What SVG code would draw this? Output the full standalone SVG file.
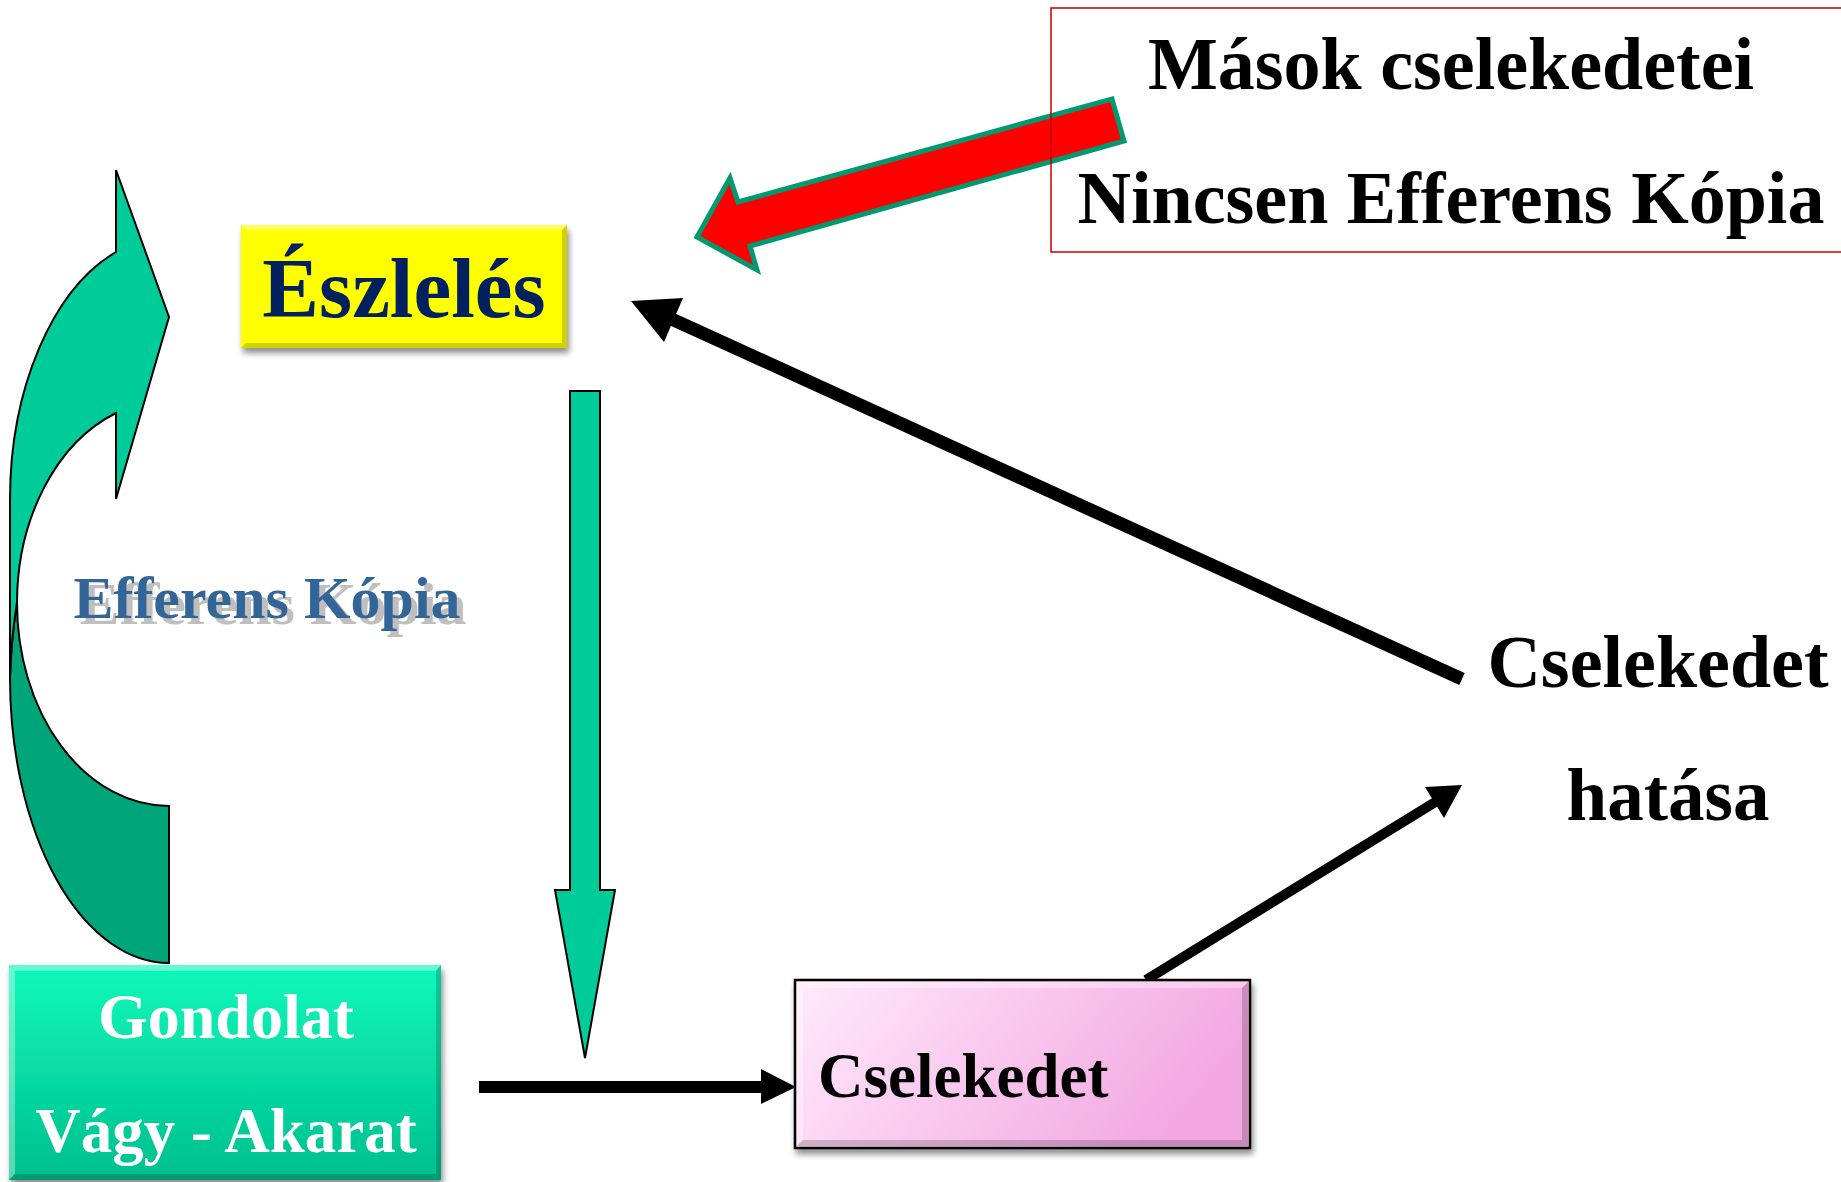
<svg xmlns="http://www.w3.org/2000/svg" width="1841" height="1182" viewBox="0 0 1841 1182">
<defs>
<style>
.t{font-family:"Liberation Serif","Times New Roman",serif;font-weight:bold;}
.blk{stroke:#000;fill:none;}
.bevL{fill:#fff;opacity:0.35;}
.bevD{fill:#000;opacity:0.18;}
</style>
<filter id="sh" x="-10%" y="-10%" width="130%" height="140%">
<feGaussianBlur in="SourceAlpha" stdDeviation="3"/>
<feOffset dx="2" dy="5" result="b"/>
<feComponentTransfer><feFuncA type="linear" slope="0.45"/></feComponentTransfer>
<feMerge><feMergeNode/><feMergeNode in="SourceGraphic"/></feMerge>
</filter>
<filter id="tsh" x="-5%" y="-20%" width="115%" height="150%">
<feOffset in="SourceAlpha" dx="6" dy="6" result="o"/>
<feFlood flood-color="#BFBFBF"/>
<feComposite in2="o" operator="in"/>
<feMerge><feMergeNode/><feMergeNode in="SourceGraphic"/></feMerge>
</filter>
<linearGradient id="gGreen" x1="0" y1="0" x2="0" y2="1">
<stop offset="0" stop-color="#0EF8BA"/>
<stop offset="1" stop-color="#00BF8E"/>
</linearGradient>
<linearGradient id="gPink" x1="0" y1="0" x2="1" y2="0.3">
<stop offset="0" stop-color="#FFEAFB"/>
<stop offset="1" stop-color="#F3A8E2"/>
</linearGradient>
</defs>
<rect width="1841" height="1182" fill="#fff"/>

<g id="connectors">
<g id="curved-arrow" stroke="#000" stroke-width="2" stroke-linejoin="miter">
<path d="M17,602 A152,203 0 0 0 169,806 L169,963 A159,285 0 0 1 10,678 Q11,640 17,602 Z" fill="#00A67A"/>
<path d="M116,170 L169,317 L116,499 L116,413 A152,203 0 0 0 17,602 Q11,640 10,678 L10,500 A159,263 0 0 1 116,252 Z" fill="#00CC99"/>
</g>
<path id="down-arrow" d="M570,391 L600,391 L600,890 L615,890 L585,1058 L555,890 L570,890 Z" fill="#00CC99" stroke="#000" stroke-width="2"/>
<path id="red-arrow" d="M697,237 L730,178 L738,202 L1112,99 L1124,141 L750,246 L757,270 Z" fill="#FF0000" stroke="#009970" stroke-width="5" stroke-linejoin="miter"/>
<line x1="1462" y1="679" x2="665" y2="316" class="blk" stroke-width="13"/>
<polygon points="631,301 683,298 664,342" fill="#000"/>
<line x1="1146" y1="980" x2="1437" y2="801" class="blk" stroke-width="10"/>
<polygon points="1462,785 1444,818 1425,787" fill="#000"/>
<line x1="479" y1="1087" x2="765" y2="1087" class="blk" stroke-width="12"/>
<polygon points="761,1069 796,1087 761,1104" fill="#000"/>
</g>

<g id="node-eszleles">
<g filter="url(#sh)">
<rect x="241" y="225" width="326" height="123" fill="#FFFF00"/>
</g>
<polygon class="bevL" points="241,225 567,225 562,230 246,230"/>
<polygon class="bevD" points="567,225 567,348 562,343 562,230"/>
<polygon class="bevD" points="241,348 567,348 562,343 246,343"/>
<text class="t" x="404" y="317" font-size="85" fill="#002060" text-anchor="middle">Észlelés</text>
</g>

<g id="node-masok">
<rect x="1051" y="8" width="800" height="244" fill="none" stroke="#C00000" stroke-width="1.5"/>
<text class="t" x="1451" y="89" font-size="74" fill="#000" text-anchor="middle">Mások cselekedetei</text>
<text class="t" x="1451" y="223" font-size="74" fill="#000" text-anchor="middle">Nincsen Efferens Kópia</text>
</g>

<g id="label-efferens">
<text class="t" x="267" y="618" font-size="60" fill="#336699" text-anchor="middle" filter="url(#tsh)">Efferens Kópia</text>
</g>

<g id="node-gondolat">
<g filter="url(#sh)">
<rect x="9" y="965" width="432" height="215" fill="url(#gGreen)"/>
</g>
<polygon class="bevL" points="9,965 441,965 436,971 15,971"/>
<polygon class="bevL" points="9,965 15,971 15,1174 9,1180"/>
<polygon class="bevD" points="441,965 441,1180 436,1174 436,971"/>
<polygon class="bevD" points="9,1180 441,1180 436,1174 15,1174"/>
<text class="t" x="226" y="1038" font-size="64" fill="#fff" text-anchor="middle">Gondolat</text>
<text class="t" x="226" y="1152" font-size="63" fill="#fff" text-anchor="middle">Vágy - Akarat</text>
</g>

<g id="node-cselekedet">
<g filter="url(#sh)">
<rect x="795" y="980" width="455" height="168" fill="url(#gPink)" stroke="#000" stroke-width="2.5"/>
</g>
<polygon class="bevL" points="797,982 1248,982 1242,988 803,988"/>
<polygon class="bevL" points="797,982 803,988 803,1140 797,1146"/>
<polygon class="bevD" points="1248,982 1248,1146 1242,1140 1242,988"/>
<polygon class="bevD" points="797,1146 1248,1146 1242,1140 803,1140"/>
<text class="t" x="818" y="1097" font-size="63" fill="#000">Cselekedet</text>
</g>

<g id="node-hatasa">
<text class="t" x="1658" y="687" font-size="74" fill="#000" text-anchor="middle">Cselekedet</text>
<text class="t" x="1668" y="820" font-size="73" fill="#000" text-anchor="middle">hatása</text>
</g>
</svg>
